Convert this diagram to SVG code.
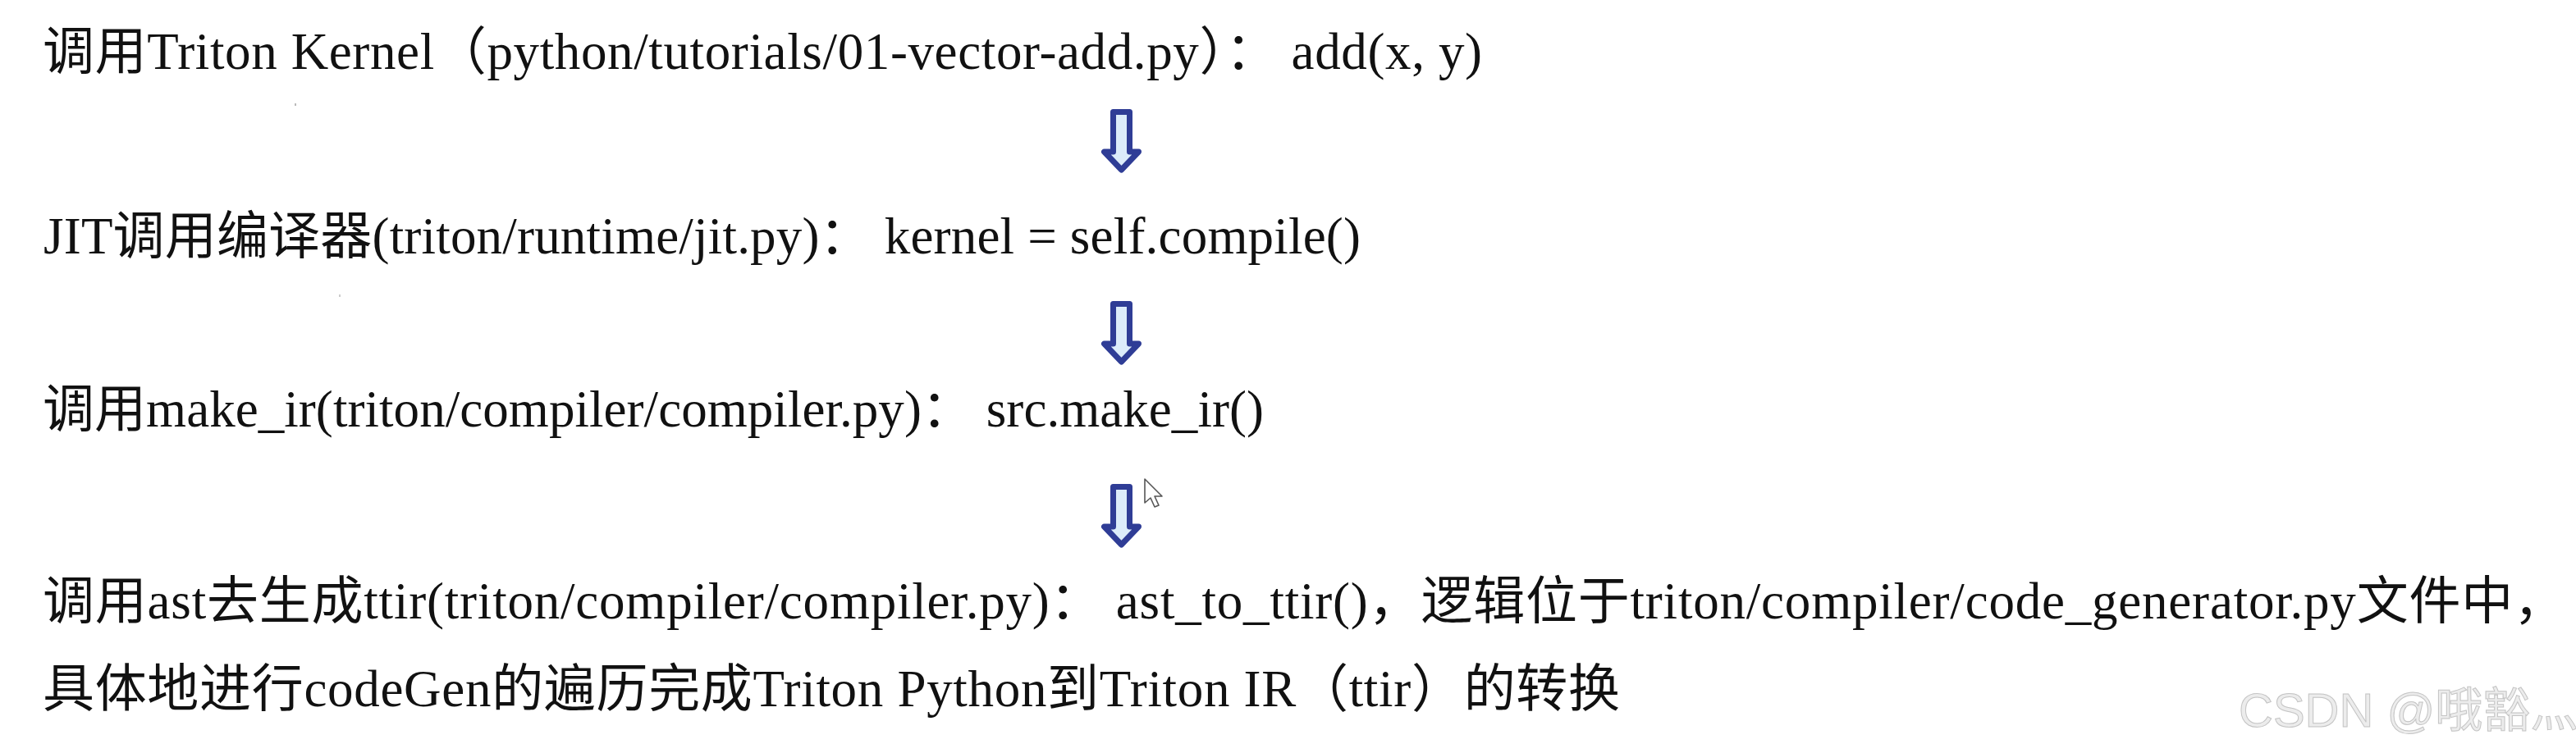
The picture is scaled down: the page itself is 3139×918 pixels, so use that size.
<svg xmlns="http://www.w3.org/2000/svg" xmlns:xlink="http://www.w3.org/1999/xlink" width="3139" height="918" viewBox="0 0 3139 918">
  <style>
    .t { font-family: "Liberation Serif", "Noto Sans CJK SC", serif; font-size: 63px; fill: #111111; }
    .arrow { fill: #dcecfa; stroke: #2f3d96; stroke-width: 7; stroke-linejoin: round; }
    .wm { font-family: "Liberation Sans", "Noto Sans CJK SC", sans-serif; font-size: 58px; fill: #ececec; stroke: #c4c4c4; stroke-width: 1; }
  </style>
  <defs>
    <path id="blockArrow" d="M -10,3.5 H 10 V 52 H 21 L 0,74 L -21,52 H -10 Z"/>
  </defs>
  <rect x="0" y="0" width="3139" height="918" fill="#ffffff"/>

  <g id="step1">
    <text class="t" x="52" y="84" textLength="1754" lengthAdjust="spacing">调用Triton Kernel（python/tutorials/01-vector-add.py）： add(x, y)</text>
  </g>
  <g id="step2">
    <text class="t" x="53" y="309" textLength="1605" lengthAdjust="spacing">JIT调用编译器(triton/runtime/jit.py)： kernel = self.compile()</text>
  </g>
  <g id="step3">
    <text class="t" x="52" y="520" textLength="1488" lengthAdjust="spacing">调用make_ir(triton/compiler/compiler.py)： src.make_ir()</text>
  </g>
  <g id="step4">
    <text class="t" x="52" y="754" textLength="3074" lengthAdjust="spacing">调用ast去生成ttir(triton/compiler/compiler.py)： ast_to_ttir()，逻辑位于triton/compiler/code_generator.py文件中，</text>
    <text class="t" x="52" y="861" textLength="1922" lengthAdjust="spacing">具体地进行codeGen的遍历完成Triton Python到Triton IR（ttir）的转换</text>
  </g>

  <g id="connectors">
    <use xlink:href="#blockArrow" class="arrow" transform="translate(1366.5,133)"/>
    <use xlink:href="#blockArrow" class="arrow" transform="translate(1366.5,367)"/>
    <use xlink:href="#blockArrow" class="arrow" transform="translate(1366.5,590)"/>
  </g>

  <g id="cursor">
    <path d="M 1395,584 L 1395,613 L 1402,607 L 1407,618 L 1412,616 L 1407,605 L 1416,605 Z" fill="#ffffff" stroke="#555555" stroke-width="1.6" stroke-linejoin="round"/>
  </g>

  <g id="specks">
    <rect x="359" y="126" width="2" height="3" fill="#bbbbbb"/>
    <rect x="413" y="359" width="2" height="3" fill="#cccccc"/>
  </g>

  <g id="watermark">
    <text class="wm" x="2728" y="886">CSDN @哦豁灬</text>
  </g>
</svg>
